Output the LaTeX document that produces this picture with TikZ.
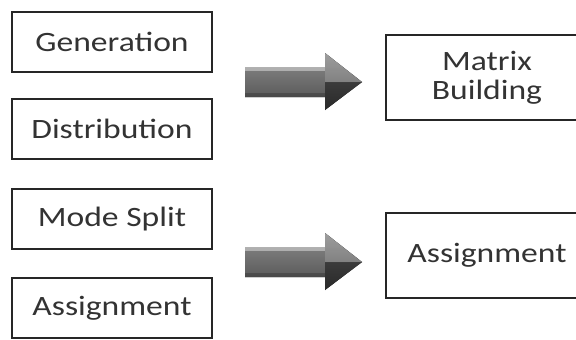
\documentclass[tikz,border=0pt]{standalone}
\usepackage{fontspec}
\setmainfont{Carlito}
\usetikzlibrary{shapes.geometric}
\newcommand{\wtxt}[1]{\scalebox{1.2}[1]{#1}}
\begin{document}
\begin{tikzpicture}[x=1pt,y=-1pt,
  stagebox/.style={draw=black!85, line width=2pt, fill=white, minimum width=200pt, minimum height=60pt, inner sep=0pt,
     font=\fontsize{28}{29}\selectfont, text=black!80, align=center},
  bigbox/.style={stagebox, minimum width=202pt, minimum height=85pt},
  fatarrow/.style={top color=black!45, bottom color=black!70, draw=none}
]
\useasboundingbox (0,0) rectangle (576,340);
\clip (0,0) rectangle (576,340);
\fill[white] (0,0) rectangle (576,340);
% left column
\node[stagebox] (gen) at (112,42) {\wtxt{Generation}};
\node[stagebox] (dist) at (112,129) {\wtxt{Distribution}};
\node[stagebox] (mode) at (112,219) {\wtxt{Mode Split}};
\node[stagebox] (assign) at (112,308) {\wtxt{Assignment}};
% right column
\node[bigbox] (matrix) at (487,77.5) {\wtxt{Matrix}\\\wtxt{Building}};
\node[bigbox] (assign2) at (487,255.5) {\wtxt{Assignment}};
% fat arrows
\foreach \dy/\nm in {0/arrA,180/arrB}{
  \coordinate (\nm) at (245,82+\dy);
  \fill[fatarrow] (245,67+\dy) -- (325,67+\dy) -- (325,53+\dy) -- (362,82+\dy) -- (325,110+\dy) -- (325,97+\dy) -- (245,97+\dy) -- cycle;
  \fill[white, opacity=0.4] (245,67+\dy) rectangle (325,71+\dy);
  \fill[black, opacity=0.2] (245,93+\dy) rectangle (325,97+\dy);
  \fill[black, opacity=0.45] (325,82+\dy) -- (362,82+\dy) -- (325,110+\dy) -- cycle;
  \fill[white, opacity=0.15] (325,53+\dy) -- (362,82+\dy) -- (325,82+\dy) -- cycle;
}
\end{tikzpicture}
\end{document}
